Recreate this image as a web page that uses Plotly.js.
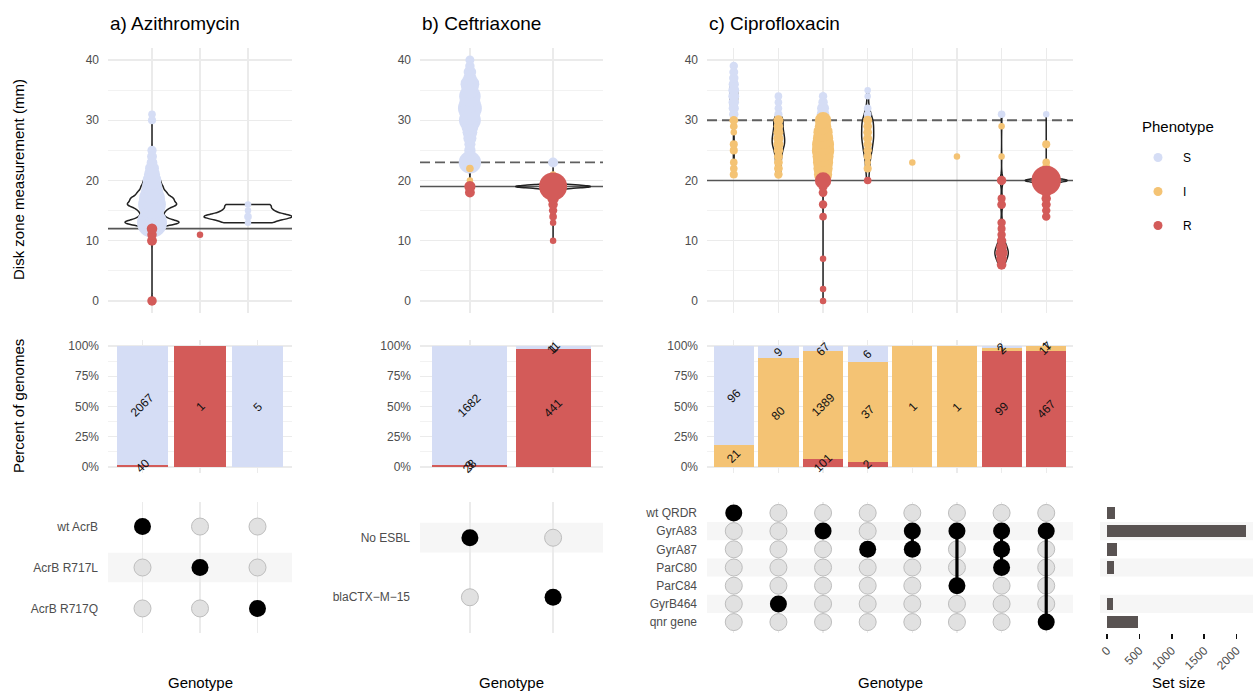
<!DOCTYPE html>
<html><head><meta charset="utf-8">
<script src="https://cdn.plot.ly/plotly-3.0.1.min.js"></script>
<style>html,body{margin:0;padding:0;background:#fff;}#chart{width:1253px;height:691px;}</style>
</head><body><div id="chart"></div>
<script>
// ================= DATA =================
const phenotypes = ["S", "I", "R"];
const phenoColors = {S: "#d5ddf5", I: "#f4c374", R: "#d35b59"};

// a) Azithromycin
const aziRows = ["wt AcrB", "AcrB R717L", "AcrB R717Q"];
const aziCombos = [["wt AcrB"], ["AcrB R717L"], ["AcrB R717Q"]];
const aziSmm = [[13,14,15,16,17,18,19,20,21,22,23,24,25,30,31], [], [13,14,15,16]];
const aziSn  = [[440,160,180,360,300,200,150,120,75,45,15,10,7,3,2], [], [1,2,1,1]];
const aziImm = [[], [], []];
const aziIn  = [[], [], []];
const aziRmm = [[0,10,11,12], [11], []];
const aziRn  = [[8,10,8,14], [1], []];
const aziBreakR = 12, aziBreakS = null;

// b) Ceftriaxone
const cefRows = ["No ESBL", "blaCTX\u2212M\u221215"];
const cefCombos = [["No ESBL"], ["blaCTX\u2212M\u221215"]];
const cefSmm = [[23,24,25,26,27,28,29,30,31,32,33,34,35,36,37,38,39,40], [23]];
const cefSn  = [[200,35,20,18,35,55,90,190,160,240,170,180,90,120,35,30,8,6], [11]];
const cefImm = [[20,22], [21]];
const cefIn  = [[1,2], [1]];
const cefRmm = [[18,19], [10,13,14,15,16,17,18,19]];
const cefRn  = [[10,18], [1,1,2,4,8,20,35,370]];
const cefBreakR = 19, cefBreakS = 23;

// c) Ciprofloxacin
const cipRows = ["wt QRDR", "GyrA83", "GyrA87", "ParC80", "ParC84", "GyrB464", "qnr gene"];
const cipCombos = [["wt QRDR"], ["GyrB464"], ["GyrA83"], ["GyrA87"], ["GyrA83","GyrA87"],
                   ["GyrA83","ParC84"], ["GyrA83","GyrA87","ParC80"], ["GyrA83","qnr gene"]];
const cipSmm = [[31,32,33,34,35,36,37,38,39], [31,32,33,34], [31,32,33,34], [31,32,34,35], [], [], [31], [31]];
const cipSn  = [[8,12,14,16,16,12,8,6,4], [3,2,2,2], [30,25,8,4], [2,2,1,1], [], [], [2], [1]];
const cipImm = [[21,22,23,25,26,28,29,30], [21,22,23,24,25,26,27,28,29,30], [21,22,23,24,25,26,27,28,29,30],
                [22,23,24,25,26,27,28,29,30], [23], [24], [24,29], [21,22,23,26]];
const cipIn  = [[3,2,2,3,3,1,2,5], [4,5,5,6,8,12,12,10,8,10], [110,130,150,170,200,190,150,130,80,79],
                [3,1,3,4,4,6,5,5,6], [1], [1], [1,1], [4,8,2,3]];
const cipRmm = [[], [], [0,2,7,14,16,18,19,20], [20], [], [], [6,7,8,9,10,11,12,13,16,17,20], [14,15,16,17,18,19,20]];
const cipRn  = [[], [], [1,1,1,2,4,5,7,80], [2], [], [], [9,15,25,15,8,4,3,4,5,3,8], [4,4,6,8,10,15,420]];
const cipBreakR = 20, cipBreakS = 30;

// ================= LAYOUT HELPERS =================
const W = 1253, H = 691;
const fx = p => p / W, fy = p => 1 - p / H;
const FONT = '"Liberation Sans", Arial, Helvetica, sans-serif';
const TICKC = '#4d4d4d', GRID = '#ebebeb', MINOR = '#f2f2f2', BAND = '#f6f6f6';
const sum = a => a.reduce((s, v) => s + v, 0);

const panels = [
  {title: 'a) Azithromycin', px: [108, 292], topRange: [0.083, 3.917], rows: aziRows, combos: aziCombos,
   S: [aziSmm, aziSn], I: [aziImm, aziIn], R: [aziRmm, aziRn], bR: aziBreakR, bS: aziBreakS,
   vw: [1.12, 0, 1.83], vadj: [0.85, 1, 1], band: 0.36},
  {title: 'b) Ceftriaxone', px: [420, 603], topRange: [0.4, 2.6], rows: cefRows, combos: cefCombos,
   S: [cefSmm, cefSn], I: [cefImm, cefIn], R: [cefRmm, cefRn], bR: cefBreakR, bS: cefBreakS,
   vw: [0.22, 0.9], vadj: [1, 0.9], band: 0.25},
  {title: 'c) Ciprofloxacin', px: [707, 1073], topRange: [0.4, 8.6], rows: cipRows, combos: cipCombos,
   S: [cipSmm, cipSn], I: [cipImm, cipIn], R: [cipRmm, cipRn], bR: cipBreakR, bS: cipBreakS,
   vw: [0.17, 0.28, 0.4, 0.27, 0, 0, 0.3, 0.94], vadj: [1, 0.6, 1, 0.7, 1, 1, 0.8, 1], band: 0.5}
];
const topPx = [48, 313], barPx = [340, 473], dotPx = [502, 633], setPx = [1100, 1253];

let cmax = 1;
panels.forEach(p => phenotypes.forEach(ph => p[ph][1].forEach(arr => arr.forEach(v => { if (v > cmax) cmax = v; }))));
const dmin = 6.5, dmax = 30;
const diam = c => dmin + (dmax - dmin) * Math.sqrt((c - 1) / (cmax - 1));

function bwNrd0(x) {
  const s = x.slice().sort((a, b) => a - b), n = s.length;
  const mean = sum(s) / n;
  const sd = Math.sqrt(s.reduce((a, v) => a + (v - mean) ** 2, 0) / (n - 1));
  const q = p => { const h = (n - 1) * p, lo = Math.floor(h); return s[lo] + (h - lo) * ((s[lo + 1] ?? s[lo]) - s[lo]); };
  let lo = Math.min(sd, (q(0.75) - q(0.25)) / 1.34);
  if (!lo) lo = sd || Math.abs(s[0]) || 1;
  return 0.9 * lo * Math.pow(n, -0.2);
}

const ax = id => id === 1 ? '' : String(id);
const traces = [], annotations = [], shapes = [];
const layout = {
  width: W, height: H, margin: {l: 0, r: 0, t: 0, b: 0}, paper_bgcolor: '#fff', plot_bgcolor: 'rgba(0,0,0,0)',
  font: {family: FONT, color: '#000'}, showlegend: true, barmode: 'stack', violinmode: 'overlay',
  legend: {x: fx(1133), y: fy(143), xanchor: 'left', yanchor: 'top', bgcolor: 'rgba(0,0,0,0)',
           font: {size: 12, color: '#000', family: FONT}, tracegroupgap: 15, itemsizing: 'trace', itemwidth: 40}
};
const tickfont = {family: FONT, size: 12, color: TICKC};
function axisBase(extra) {
  return Object.assign({zeroline: false, showline: false, ticks: '', tickfont: tickfont, gridcolor: GRID,
                        gridwidth: 1.3, automargin: false, fixedrange: true, type: 'linear'}, extra);
}

panels.forEach((p, pi) => {
  const n = p.combos.length;
  const pos = p.combos.map((_, i) => i + 1);
  const xdom = [fx(p.px[0]), fx(p.px[1])];
  const tId = 1 + pi, bId = 4 + pi, dId = 7 + pi;
  const catRange = [0.4, n + 0.6];

  // ---- top: violin + sized points ----
  layout['xaxis' + ax(tId)] = axisBase({domain: xdom, anchor: 'y' + ax(tId), range: p.topRange,
    tickvals: pos, showticklabels: false, showgrid: true});
  layout['yaxis' + ax(tId)] = axisBase({domain: [fy(topPx[1]), fy(topPx[0])], anchor: 'x' + ax(tId), range: [-2, 42],
    tickvals: [0, 10, 20, 30, 40], ticklabelstandoff: 8,
    minor: {tickvals: [5, 15, 25, 35], showgrid: true, gridcolor: MINOR, gridwidth: 1}});
  [p.bR, p.bS].forEach((bp, k) => {
    if (bp === null) return;
    shapes.push({type: 'line', xref: 'x' + ax(tId), yref: 'y' + ax(tId), x0: p.topRange[0], x1: p.topRange[1], y0: bp, y1: bp,
      layer: 'between', line: {color: k === 0 ? '#555555' : '#5f5f5f', width: k === 0 ? 1.7 : 1.8, dash: k === 0 ? 'solid' : '10px,5px'}});
  });
  p.combos.forEach((_, g) => {
    const vals = [];
    phenotypes.forEach(ph => p[ph][0][g].forEach((mm, j) => { for (let r = 0; r < p[ph][1][g][j]; r++) vals.push(mm); }));
    const uniq = new Set(vals).size;
    if (uniq < 2 || !p.vw[g]) return;
    traces.push({type: 'violin', x0: g + 1, y: vals, xaxis: 'x' + ax(tId), yaxis: 'y' + ax(tId),
      width: p.vw[g], scalemode: 'width', spanmode: 'hard', bandwidth: bwNrd0(vals) * p.vadj[g], points: false,
      box: {visible: false}, meanline: {visible: false}, fillcolor: 'rgba(0,0,0,0)',
      line: {color: '#222222', width: 1.5}, showlegend: false, hoverinfo: 'skip'});
  });
  phenotypes.forEach(ph => {
    const xs = [], ys = [], ss = [];
    p.combos.forEach((_, g) => p[ph][0][g].forEach((mm, j) => { xs.push(g + 1); ys.push(mm); ss.push(diam(p[ph][1][g][j])); }));
    traces.push({type: 'scatter', mode: 'markers', x: xs, y: ys, xaxis: 'x' + ax(tId), yaxis: 'y' + ax(tId),
      marker: {size: ss, sizemode: 'diameter', color: phenoColors[ph], line: {width: 0}, opacity: 1},
      showlegend: false, hoverinfo: 'skip', cliponaxis: false});
  });

  // ---- bars: percent of genomes ----
  layout['xaxis' + ax(bId)] = axisBase({domain: xdom, anchor: 'y' + ax(bId), range: catRange,
    tickvals: pos, showticklabels: false, showgrid: true});
  layout['yaxis' + ax(bId)] = axisBase({domain: [fy(barPx[1]), fy(barPx[0])], anchor: 'x' + ax(bId), range: [-0.05, 1.05],
    tickvals: [0, 0.25, 0.5, 0.75, 1], ticktext: ['0%', '25%', '50%', '75%', '100%'], ticklabelstandoff: 8,
    minor: {tickvals: [0.125, 0.375, 0.625, 0.875], showgrid: true, gridcolor: MINOR, gridwidth: 1}});
  const counts = {};
  phenotypes.forEach(ph => counts[ph] = p.combos.map((_, g) => sum(p[ph][1][g])));
  const totals = p.combos.map((_, g) => sum(phenotypes.map(ph => counts[ph][g])));
  ['R', 'I', 'S'].forEach(ph => {
    traces.push({type: 'bar', x: pos, y: counts[ph].map((c, g) => c / totals[g]), width: 0.9,
      xaxis: 'x' + ax(bId), yaxis: 'y' + ax(bId), marker: {color: phenoColors[ph], line: {width: 0}},
      showlegend: false, hoverinfo: 'skip'});
  });
  p.combos.forEach((_, g) => {
    let cum = 0;
    ['R', 'I', 'S'].forEach(ph => {
      const c = counts[ph][g]; if (!c) return;
      const f = c / totals[g];
      annotations.push({xref: 'x' + ax(bId), yref: 'y' + ax(bId), x: g + 1, y: cum + f / 2, text: String(c),
        showarrow: false, textangle: -45, font: {family: FONT, size: 12, color: '#111'}, xanchor: 'center', yanchor: 'middle'});
      cum += f;
    });
  });

  // ---- set size (ciprofloxacin rows) ----
  const nr = p.rows.length, rpos = p.rows.map((_, i) => i + 1);
  let setRange = null;
  if (pi === 2) {
    const setSizes = p.rows.map(row => sum(p.combos.map((cmb, g) => cmb.includes(row) ? totals[g] : 0)));
    const mx = Math.max(...setSizes);
    setRange = [-0.05 * mx, 1.05 * mx];
    layout.xaxis10 = axisBase({domain: [fx(setPx[0]), fx(setPx[1])], anchor: 'y10', range: setRange,
      tickvals: [0, 500, 1000, 1500, 2000], tickangle: -45, ticks: 'outside', ticklen: 5, tickwidth: 1.6, tickcolor: '#111',
      showgrid: false});
    layout.yaxis10 = axisBase({domain: [fy(dotPx[1]), fy(dotPx[0])], anchor: 'x10', range: [nr + 0.6, 0.4],
      tickvals: rpos, showticklabels: false, showgrid: false});
    traces.push({type: 'bar', orientation: 'h', x: setSizes, y: rpos, width: 0.7, xaxis: 'x10', yaxis: 'y10',
      marker: {color: '#595352', line: {width: 0}}, showlegend: false, hoverinfo: 'skip'});
    annotations.push({xref: 'paper', yref: 'paper', x: fx(1178), y: fy(682), text: 'Set size', showarrow: false,
      xanchor: 'center', yanchor: 'middle', font: {family: FONT, size: 15, color: '#000'}});
  }

  // ---- dot matrix ----
  layout['xaxis' + ax(dId)] = axisBase({domain: xdom, anchor: 'y' + ax(dId), range: catRange,
    tickvals: pos, showticklabels: false, showgrid: true});
  layout['yaxis' + ax(dId)] = axisBase({domain: [fy(dotPx[1]), fy(dotPx[0])], anchor: 'x' + ax(dId), range: [nr + 0.6, 0.4],
    tickvals: rpos, ticktext: p.rows, showgrid: false, ticklabelstandoff: 9});
  p.rows.forEach((_, r) => {
    if ((nr - r) % 2 === 0) {
      shapes.push({type: 'rect', xref: 'x' + ax(dId), yref: 'y' + ax(dId), x0: catRange[0], x1: catRange[1],
        y0: r + 1 - p.band, y1: r + 1 + p.band, layer: 'below', fillcolor: BAND, line: {width: 0}});
      if (setRange) shapes.push({type: 'rect', xref: 'x10', yref: 'y10', x0: setRange[0], x1: setRange[1],
        y0: r + 1 - p.band, y1: r + 1 + p.band, layer: 'below', fillcolor: BAND, line: {width: 0}});
    }
  });
  const gx = [], gy = [], bx = [], by = [];
  p.combos.forEach((cmb, g) => p.rows.forEach((row, r) => {
    if (cmb.includes(row)) { bx.push(g + 1); by.push(r + 1); } else { gx.push(g + 1); gy.push(r + 1); }
  }));
  traces.push({type: 'scatter', mode: 'markers', x: gx, y: gy, xaxis: 'x' + ax(dId), yaxis: 'y' + ax(dId),
    marker: {size: 17, color: '#e1e1e1', line: {color: '#bdbdbd', width: 1}}, showlegend: false, hoverinfo: 'skip', cliponaxis: false});
  p.combos.forEach((cmb, g) => {
    if (cmb.length < 2) return;
    const idx = cmb.map(c => p.rows.indexOf(c) + 1);
    traces.push({type: 'scatter', mode: 'lines', x: [g + 1, g + 1], y: [Math.min(...idx), Math.max(...idx)],
      xaxis: 'x' + ax(dId), yaxis: 'y' + ax(dId), line: {color: '#000', width: 3.2}, showlegend: false, hoverinfo: 'skip'});
  });
  traces.push({type: 'scatter', mode: 'markers', x: bx, y: by, xaxis: 'x' + ax(dId), yaxis: 'y' + ax(dId),
    marker: {size: 17, color: '#000', line: {width: 0}}, showlegend: false, hoverinfo: 'skip', cliponaxis: false});

  // ---- titles ----
  annotations.push({xref: 'paper', yref: 'paper', x: xdom[0], y: fy(24), text: p.title, showarrow: false,
    xanchor: 'left', yanchor: 'middle', font: {family: FONT, size: 19, color: '#000'}});
  annotations.push({xref: 'paper', yref: 'paper', x: (xdom[0] + xdom[1]) / 2, y: fy(682), text: 'Genotype', showarrow: false,
    xanchor: 'center', yanchor: 'middle', font: {family: FONT, size: 15, color: '#000'}});
});

// axis titles and legend title
annotations.push({xref: 'paper', yref: 'paper', x: fx(18), y: fy(180), text: 'Disk zone measurement (mm)', showarrow: false,
  textangle: -90, xanchor: 'center', yanchor: 'middle', font: {family: FONT, size: 15, color: '#000'}});
annotations.push({xref: 'paper', yref: 'paper', x: fx(18), y: fy(406), text: 'Percent of genomes', showarrow: false,
  textangle: -90, xanchor: 'center', yanchor: 'middle', font: {family: FONT, size: 15, color: '#000'}});
annotations.push({xref: 'paper', yref: 'paper', x: fx(1140), y: fy(126), text: 'Phenotype', showarrow: false,
  xanchor: 'left', yanchor: 'middle', font: {family: FONT, size: 15, color: '#000'}});

// legend entries
phenotypes.forEach(ph => traces.push({type: 'scatter', mode: 'markers', x: [null], y: [null], xaxis: 'x', yaxis: 'y',
  name: ph, legendgroup: ph, marker: {size: 9, color: phenoColors[ph]}, showlegend: true, hoverinfo: 'skip'}));

layout.annotations = annotations;
layout.shapes = shapes;
Plotly.newPlot('chart', traces, layout, {staticPlot: true, displayModeBar: false});
</script></body></html>
